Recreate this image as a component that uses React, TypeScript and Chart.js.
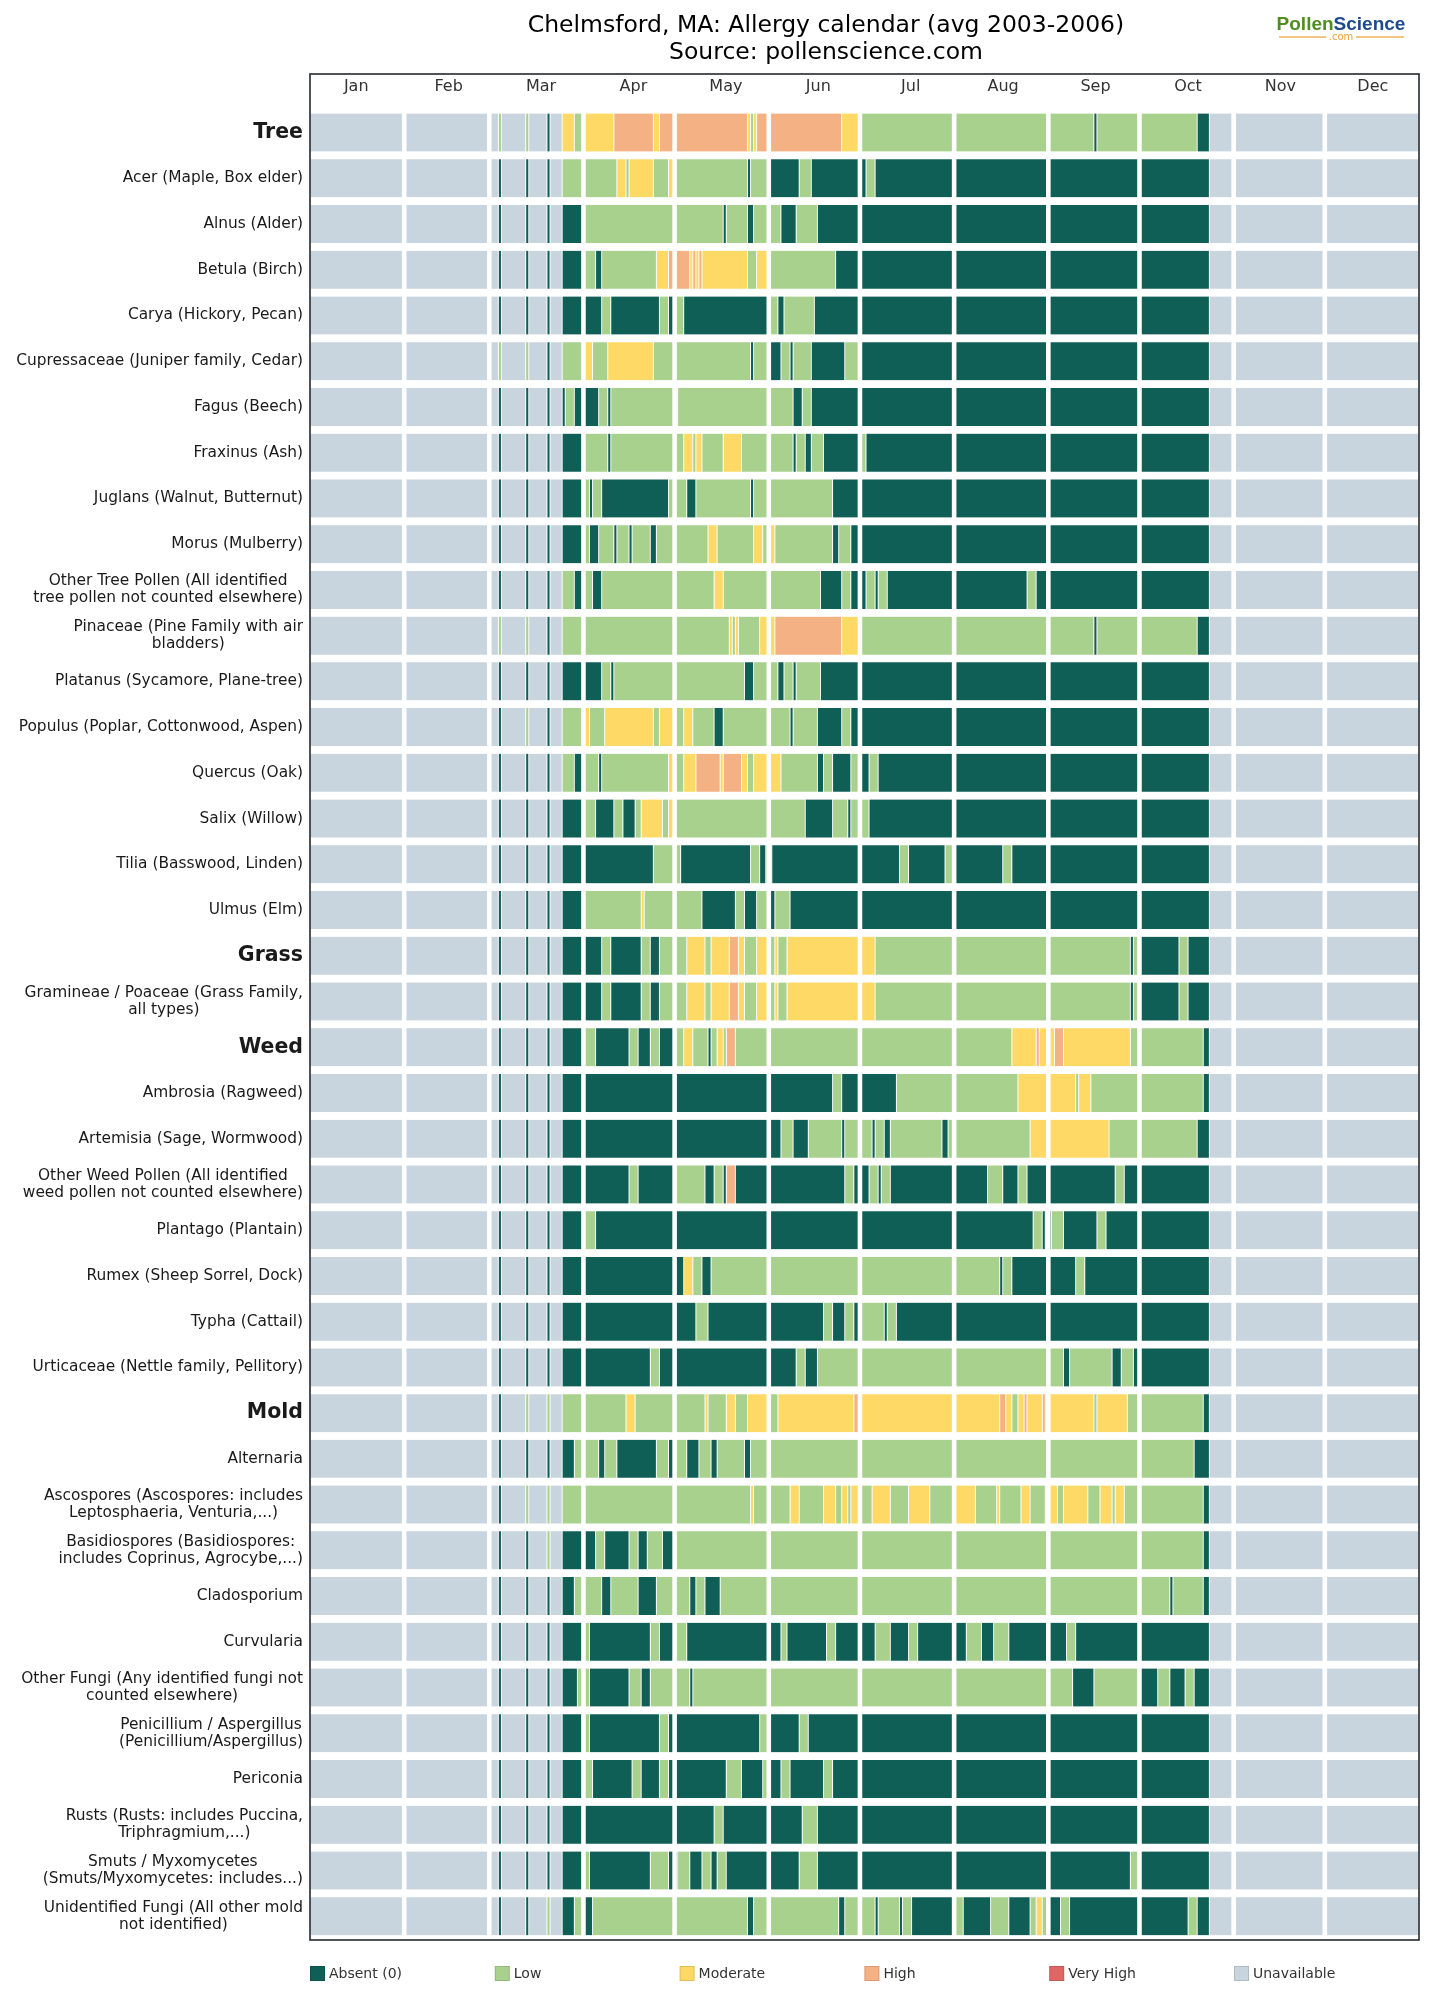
import React, { useEffect, useRef } from 'react';
import { Chart, registerables } from 'chart.js';

Chart.register(...registerables);

const WIDTH = 1449;
const HEIGHT = 2012;

const titleLines = ['Chelmsford, MA: Allergy calendar (avg 2003-2006)', 'Source: pollenscience.com'];

const monthLabels = ['Jan', 'Feb', 'Mar', 'Apr', 'May', 'Jun', 'Jul', 'Aug', 'Sep', 'Oct', 'Nov', 'Dec'];
const monthStartDays = [0, 31, 59, 90, 120, 151, 181, 212, 243, 273, 304, 334, 365];

const levelCodes = ['A', 'L', 'M', 'H', 'V', 'U'];
const levelNames = ['Absent (0)', 'Low', 'Moderate', 'High', 'Very High', 'Unavailable'];
const levelColors = ['#105f57', '#a9d18e', '#fed966', '#f4b183', '#e06666', '#c9d5de'];

const groupHeaders = ['Tree', 'Grass', 'Weed', 'Mold'];

// Each run string lists "<first day of year><level code>" transitions; a run lasts until the next one.
const treeLabels = [
  'Tree',
  'Acer (Maple, Box elder)',
  'Alnus (Alder)',
  'Betula (Birch)',
  'Carya (Hickory, Pecan)',
  'Cupressaceae (Juniper family, Cedar)',
  'Fagus (Beech)',
  'Fraxinus (Ash)',
  'Juglans (Walnut, Butternut)',
  'Morus (Mulberry)',
  'Other Tree Pollen (All identified\ntree pollen not counted elsewhere)',
  'Pinaceae (Pine Family with air\nbladders)',
  'Platanus (Sycamore, Plane-tree)',
  'Populus (Poplar, Cottonwood, Aspen)',
  'Quercus (Oak)',
  'Salix (Willow)',
  'Tilia (Basswood, Linden)',
  'Ulmus (Elm)',
];
const treeRuns = [
  '0U 62L 63U 71L 72U 78A 79U 83M 87L 90M 100H 113M 115H 144M 145L 146M 147H 175M 181L 258A 259L 292A 296U',
  '0U 62A 63U 71A 72U 78A 79U 83L 101M 104L 105M 113L 118M 120L 144A 145L 151A 161L 165A 183L 186A 296U',
  '0U 62A 63U 71A 72U 78A 79U 83A 90L 136A 137L 144A 146L 155A 160L 167A 296U',
  '0U 62A 63U 71A 72U 78A 79U 83A 90L 94A 96L 114M 118H 125M 126H 127M 128H 129M 144L 147M 151L 173A 296U',
  '0U 62A 63U 71A 72U 78A 79U 83A 96L 99A 115L 118A 120L 123A 151L 154A 156L 166A 296U',
  '0U 62L 63U 71L 72U 78A 79U 83L 90M 93L 98M 113L 145A 146L 151A 155L 158A 159L 165A 176L 181A 296U',
  '0U 62A 63U 71A 72U 78A 79U 83A 84L 87A 95L 98A 99L 120M 121L 159A 162L 165A 296U',
  '0U 62A 63U 71A 72U 78A 79U 83A 90L 98A 99L 123M 126L 127M 129L 136M 142L 159A 160L 163A 165L 169A 181L 183A 296U',
  '0U 62A 63U 71A 72U 78A 79U 83A 90L 92A 93L 96A 118L 124A 127L 145A 146L 172A 296U',
  '0U 62A 63U 71A 72U 78A 79U 83A 90L 92A 95L 100A 101L 105A 106L 112A 114L 131M 134L 146M 149L 151M 153L 172A 174L 178A 296U',
  '0U 62A 63U 71A 72U 78A 79U 83L 87A 90L 93A 96L 133M 136L 168A 175L 178A 183L 186A 187L 190A 236L 239A 296U',
  '0U 62L 63U 71L 72U 78A 79U 83L 138M 139L 140M 141L 148M 153H 175M 181L 258A 259L 292A 296U',
  '0U 62A 63U 71A 72U 78A 79U 83A 96L 99A 100L 143A 146L 154A 156L 159A 160L 168A 296U',
  '0U 62A 63U 71L 72U 78A 79U 83L 90M 92L 97M 113L 115M 120L 123M 126L 133A 136L 158A 159L 167A 175L 178A 296U',
  '0U 62A 63U 71A 72U 78A 79U 83L 87A 90L 95A 96L 118M 120L 123M 127H 135M 136H 142M 144L 146M 155L 167A 169L 172A 178L 181A 184L 187A 296U',
  '0U 62A 63U 71A 72U 78A 79U 83A 90L 94A 100L 103A 107L 109M 116L 118M 120L 163A 172L 177A 178L 184A 296U',
  '0U 62A 63U 71A 72U 78A 79U 83A 113L 122A 145L 148A 150L 152A 194L 197A 209L 212A 228L 231A 296U',
  '0U 62A 63U 71A 72U 78A 79U 83A 90L 109M 110L 129A 140L 143A 147L 151A 153L 158A 296U',
];

const grassLabels = ['Grass', 'Gramineae / Poaceae (Grass Family,\nall types)'];
const grassRuns = [
  '0U 62A 63U 71A 72U 78A 79U 83A 96L 99A 109L 112A 115L 124M 130L 132M 138H 141M 143L 147M 151L 153M 154L 157M 186L 270A 271L 273A 286L 289A 296U',
  '0U 62A 63U 71A 72U 78A 79U 83A 96L 99A 109L 112A 115L 124M 130L 132M 138H 141M 143L 147M 151L 153M 154L 157M 186L 270A 271L 273A 286L 289A 296U',
];

const weedLabels = [
  'Weed',
  'Ambrosia (Ragweed)',
  'Artemisia (Sage, Wormwood)',
  'Other Weed Pollen (All identified\nweed pollen not counted elsewhere)',
  'Plantago (Plantain)',
  'Rumex (Sheep Sorrel, Dock)',
  'Typha (Cattail)',
  'Urticaceae (Nettle family, Pellitory)',
];
const weedRuns = [
  '0U 62A 63U 71A 72U 78A 79U 83A 90L 94A 105L 108A 112L 115A 120L 123M 126L 131A 132L 134M 136L 137H 140L 231M 239H 240M 245H 248M 270L 294A 296U',
  '0U 62A 63U 71A 72U 78A 79U 83A 172L 175A 193L 233M 252L 253M 257L 294A 296U',
  '0U 62A 63U 71A 72U 78A 79U 83A 155L 159A 164L 175A 176L 185A 186L 189A 191L 208A 210L 237M 263L 292A 296U',
  '0U 62A 63U 71A 72U 78A 79U 83A 105L 108A 120L 130A 133L 136A 137H 140A 176L 179A 184L 187A 188L 191A 223L 228A 233L 236A 265L 268A 296U',
  '0U 62A 63U 71A 72U 78A 79U 83A 90L 94A 238L 241A 242L 243A 244L 248A 259L 262A 296U',
  '0U 62A 63U 71A 72U 78A 79U 83A 123M 126L 129A 132L 227A 228L 231A 252L 255A 296U',
  '0U 62A 63U 71A 72U 78A 79U 83A 127L 131A 169L 172A 176L 179A 181L 189A 190L 193A 296U',
  '0U 62A 63U 71A 72U 78A 79U 83A 112L 115A 160L 163A 167L 248A 250L 264A 267L 271A 296U',
];

const moldLabels = [
  'Mold',
  'Alternaria',
  'Ascospores (Ascospores: includes\nLeptosphaeria, Venturia,...)',
  'Basidiospores (Basidiospores:\nincludes Coprinus, Agrocybe,...)',
  'Cladosporium',
  'Curvularia',
  'Other Fungi (Any identified fungi not\ncounted elsewhere)',
  'Penicillium / Aspergillus\n(Penicillium/Aspergillus)',
  'Periconia',
  'Rusts (Rusts: includes Puccina,\nTriphragmium,...)',
  'Smuts / Myxomycetes\n(Smuts/Myxomycetes: includes...)',
  'Unidentified Fungi (All other mold\nnot identified)',
];
const moldRuns = [
  '0U 62A 63U 71L 72U 78L 79U 83L 104M 107L 130M 131L 137M 140L 144M 151L 154M 179H 181M 227H 229M 231L 233M 235H 236M 241H 242M 258L 259M 269L 294A 296U',
  '0U 62A 63U 71A 72U 78A 79U 83A 87L 95A 97L 101A 114L 118A 120L 124A 128L 132A 134L 143A 145L 291A 296U',
  '0U 62A 63U 71L 72U 78L 79U 83L 145M 146L 158M 161L 169M 173L 175M 177L 178M 181L 185M 191L 197M 204L 212M 219L 226M 227L 234M 237L 242M 246L 248M 256L 260M 264L 265M 268L 294A 296U',
  '0U 62A 63U 71A 72U 78L 79U 83A 94L 97A 105L 108A 111L 116A 120L 294A 296U',
  '0U 62A 63U 71A 72U 78A 79U 83A 87L 96A 99L 108A 114L 125A 127L 130A 135L 283A 284L 294A 296U',
  '0U 62A 63U 71A 72U 78A 79U 83A 90L 92A 112L 115A 120L 124A 155L 157A 170L 173A 186L 191A 197L 200A 216L 221A 225L 230A 249L 252A 296U',
  '0U 62A 63U 71A 72U 78A 79U 83A 88L 92A 105L 109A 112L 125A 126L 251A 258L 273A 279L 283A 288L 291A 296U',
  '0U 62A 63U 71A 72U 78A 79U 83A 90L 92A 115L 118A 148L 151A 161L 164A 296U',
  '0U 62A 63U 71A 72U 78A 79U 83A 90L 93A 106L 109A 115L 118A 137L 142A 149L 151A 155L 158A 169L 172A 296U',
  '0U 62A 63U 71A 72U 78A 79U 83A 133L 136A 162L 167A 296U',
  '0U 62A 63U 71A 72U 78A 79U 83A 90L 92A 112L 118A 121L 125A 129L 132A 134L 137A 161L 167A 270L 273A 296U',
  '0U 62A 63U 71A 72U 78L 79U 83A 87L 90A 93L 144A 146L 174A 176L 186A 187L 194A 195L 198A 212L 215A 224L 230A 237L 239M 241L 243A 247L 250A 289L 292A 296U',
];

const rowLabels = [...treeLabels, ...grassLabels, ...weedLabels, ...moldLabels];
const rowRuns = [...treeRuns, ...grassRuns, ...weedRuns, ...moldRuns];
const DAYS = 365;

type Run = { start: number; end: number; code: string };

function parseRuns(text: string): Run[] {
  const tokens = text.trim().split(/\s+/).map((t) => ({ start: parseInt(t, 10), code: t.slice(-1) }));
  return tokens.map((t, i) => ({
    start: t.start,
    end: i + 1 < tokens.length ? tokens[i + 1].start : DAYS,
    code: t.code,
  }));
}

const FONT = '"DejaVu Sans", "Liberation Sans", sans-serif';

const calendarDecor = {
  id: 'calendarDecor',
  afterDatasetsDraw(chart: any) {
    const { ctx, chartArea, scales } = chart;
    const xs = scales.x;
    const ys = scales.y;
    ctx.save();

    // white gaps between months
    ctx.fillStyle = '#ffffff';
    for (let m = 1; m < monthStartDays.length - 1; m++) {
      const px = xs.getPixelForValue(monthStartDays[m]);
      ctx.fillRect(px - 2.3, chartArea.top, 4.6, chartArea.bottom - chartArea.top);
    }

    // frame
    ctx.strokeStyle = '#252a2e';
    ctx.lineWidth = 1.6;
    ctx.strokeRect(chartArea.left, chartArea.top, chartArea.right - chartArea.left, chartArea.bottom - chartArea.top);

    // month names along the top inside the frame
    ctx.fillStyle = '#333333';
    ctx.font = `16px ${FONT}`;
    ctx.textAlign = 'center';
    ctx.textBaseline = 'middle';
    monthLabels.forEach((name, i) => {
      const px = xs.getPixelForValue(((i + 0.5) * DAYS) / 12);
      ctx.fillText(name, px, chartArea.top + 13);
    });

    // row labels, right-aligned blocks with centred lines
    const rightEdge = chartArea.left - 7;
    rowLabels.forEach((label, i) => {
      const header = groupHeaders.includes(label);
      ctx.font = header ? `bold 20.5px ${FONT}` : `15.4px ${FONT}`;
      ctx.fillStyle = '#1a1a1a';
      const lines = label.split('\n');
      const blockW = Math.max(...lines.map((l) => ctx.measureText(l).width));
      const cx = rightEdge - blockW / 2;
      const cy = ys.getPixelForValue(i);
      const lh = 17;
      lines.forEach((l, k) => {
        ctx.fillText(l, cx, cy + (k - (lines.length - 1) / 2) * lh);
      });
    });

    // title
    ctx.fillStyle = '#000000';
    ctx.font = `23.5px ${FONT}`;
    ctx.fillText(titleLines[0], 826, 26);
    ctx.fillText(titleLines[1], 826, 53);

    // logo
    ctx.font = 'bold 19px "Liberation Sans", sans-serif';
    ctx.textAlign = 'left';
    const w1 = ctx.measureText('Pollen').width;
    const w2 = ctx.measureText('Science').width;
    const lx = 1341 - (w1 + w2) / 2;
    ctx.fillStyle = '#4e8d1f';
    ctx.fillText('Pollen', lx, 25);
    ctx.fillStyle = '#1f4b8e';
    ctx.fillText('Science', lx + w1, 25);
    ctx.strokeStyle = '#f0b35a';
    ctx.lineWidth = 1.5;
    ctx.beginPath();
    ctx.moveTo(1279, 37);
    ctx.lineTo(1326, 37);
    ctx.moveTo(1356, 37);
    ctx.lineTo(1404, 37);
    ctx.stroke();
    ctx.fillStyle = '#e8a23c';
    ctx.font = `10px ${FONT}`;
    ctx.textAlign = 'center';
    ctx.fillText('.com', 1341, 37);

    // legend
    ctx.textAlign = 'left';
    ctx.font = `14px ${FONT}`;
    levelNames.forEach((name, k) => {
      const bx = chartArea.left + k * 184.8;
      const by = 1966;
      ctx.fillStyle = levelColors[k];
      ctx.fillRect(bx, by, 15, 15);
      ctx.strokeStyle = 'rgba(0,0,0,0.12)';
      ctx.lineWidth = 1;
      ctx.strokeRect(bx + 0.5, by + 0.5, 14, 14);
      ctx.fillStyle = '#333333';
      ctx.fillText(name, bx + 19, by + 8);
    });

    ctx.restore();
  },
};

export default function App() {
  const canvasRef = useRef<HTMLCanvasElement | null>(null);

  useEffect(() => {
    const canvas = canvasRef.current;
    if (!canvas) return;

    const parsedRows = rowRuns.map(parseRuns);
    const datasets = levelCodes.map((code, li) => ({
      label: levelNames[li],
      data: parsedRows.flatMap((runs, row) =>
        runs.filter((r) => r.code === code).map((r) => ({ x: [r.start, r.end], y: row }))
      ),
      backgroundColor: levelColors[li],
      borderColor: 'rgba(255,255,255,0.75)',
      borderWidth: { left: 0.8, right: 0.8, top: 0, bottom: 0 },
      borderSkipped: false,
      barThickness: 38,
      grouped: false,
    }));

    const chart = new Chart(canvas, {
      type: 'bar',
      data: { datasets: datasets as any },
      options: {
        indexAxis: 'y',
        animation: false,
        responsive: false,
        devicePixelRatio: 1,
        layout: { padding: { left: 310, right: 30, top: 74, bottom: 72 } },
        scales: {
          x: { type: 'linear', min: 0, max: DAYS, offset: false, display: false },
          y: { type: 'linear', min: -1.28, max: 39.52, offset: false, reverse: true, display: false },
        },
        plugins: {
          legend: { display: false },
          tooltip: { enabled: false },
        },
        events: [],
      },
      plugins: [calendarDecor],
    });

    return () => chart.destroy();
  }, []);

  return (
    <div style={{ position: 'absolute', left: 0, top: 0, width: WIDTH, height: HEIGHT, background: '#ffffff' }}>
      <canvas ref={canvasRef} width={WIDTH} height={HEIGHT} style={{ display: 'block' }} />
    </div>
  );
}
